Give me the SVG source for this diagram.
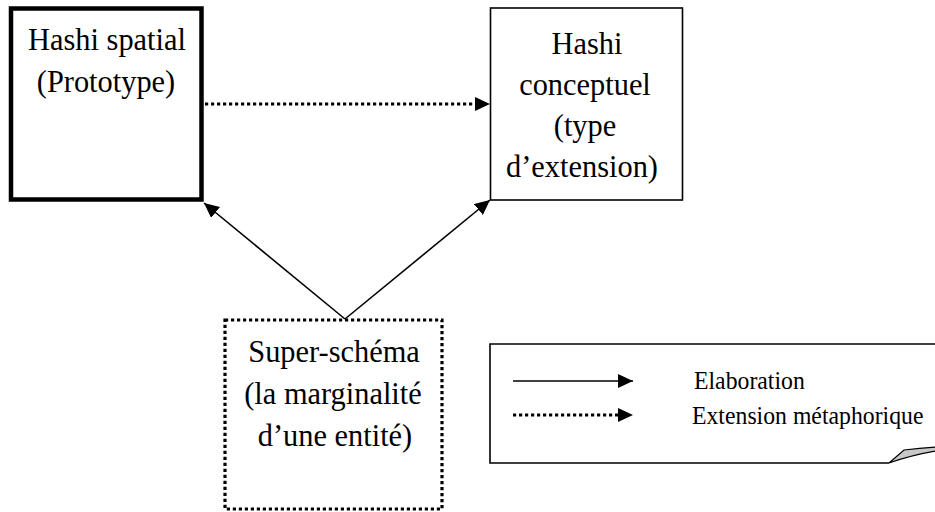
<svg xmlns="http://www.w3.org/2000/svg" width="935" height="512" viewBox="0 0 935 512">
<style>
.t{font-family:"Liberation Serif","Times New Roman",serif;font-size:32px;fill:#000;text-anchor:middle;}
.l{font-family:"Liberation Serif","Times New Roman",serif;font-size:25px;fill:#000;text-anchor:start;}
.box{fill:#fff;stroke:#000;}
.ln{stroke:#000;stroke-width:1.6;fill:none;}
.dot{stroke:#000;stroke-width:3.2;stroke-dasharray:3.2 2.8;fill:none;}
</style>
<defs>
<marker id="ah" markerUnits="userSpaceOnUse" markerWidth="16" markerHeight="16" refX="15" refY="7" orient="auto">
<path d="M0,0 L15,7 L0,14 Z" fill="#000"/>
</marker>
</defs>
<rect width="935" height="512" fill="#fff"/>
<g id="connectors">
<line class="dot" x1="205" y1="104" x2="476" y2="104"/>
<path d="M475,97 L490,104 L475,111 Z" fill="#000"/>
<line class="ln" x1="345" y1="319" x2="204" y2="203" marker-end="url(#ah)"/>
<line class="ln" x1="345" y1="319" x2="490" y2="200" marker-end="url(#ah)"/>
</g>
<g id="hashi-spatial">
<rect class="box" x="11" y="8.5" width="190.5" height="191" stroke-width="4.5"/>
<text class="t" transform="translate(107 50) scale(0.95 1)">Hashi spatial</text>
<text class="t" transform="translate(106 92) scale(0.95 1)">(Prototype)</text>
</g>
<g id="hashi-conceptuel">
<rect class="box" x="490.5" y="8" width="192" height="192" stroke-width="1.6"/>
<text class="t" transform="translate(587 54) scale(0.95 1)">Hashi</text>
<text class="t" transform="translate(585 95) scale(0.95 1)">conceptuel</text>
<text class="t" transform="translate(585 136) scale(0.95 1)">(type</text>
<text class="t" transform="translate(582 177) scale(0.95 1)">d’extension)</text>
</g>
<g id="super-schema">
<rect class="box" x="225" y="320" width="217" height="189" stroke="#000" stroke-width="3.2" stroke-dasharray="3.2 2.8"/>
<text class="t" transform="translate(334 362) scale(0.95 1)">Super-schéma</text>
<text class="t" transform="translate(333 404) scale(0.95 1)">(la marginalité</text>
<text class="t" transform="translate(335 446) scale(0.95 1)">d’une entité)</text>
</g>
<g id="legend">
<path class="ln" d="M937,344 L490,344 L490,463 L889,463"/>
<path d="M889,463 L904,450 Q920,448 936,447 L936,451 Q912,455 889,463 Z" fill="#c8c8c8" stroke="#000" stroke-width="1.2"/>
<line class="ln" x1="513" y1="381" x2="633" y2="381" marker-end="url(#ah)"/>
<line class="dot" x1="513" y1="415" x2="620" y2="415" stroke-width="2.6" stroke-dasharray="2.6 2.4"/>
<path d="M618,408 L633,415 L618,422 Z" fill="#000"/>
<text class="l" transform="translate(694 389) scale(0.95 1)">Elaboration</text>
<text class="l" transform="translate(692 424) scale(0.95 1)">Extension métaphorique</text>
</g>
</svg>
